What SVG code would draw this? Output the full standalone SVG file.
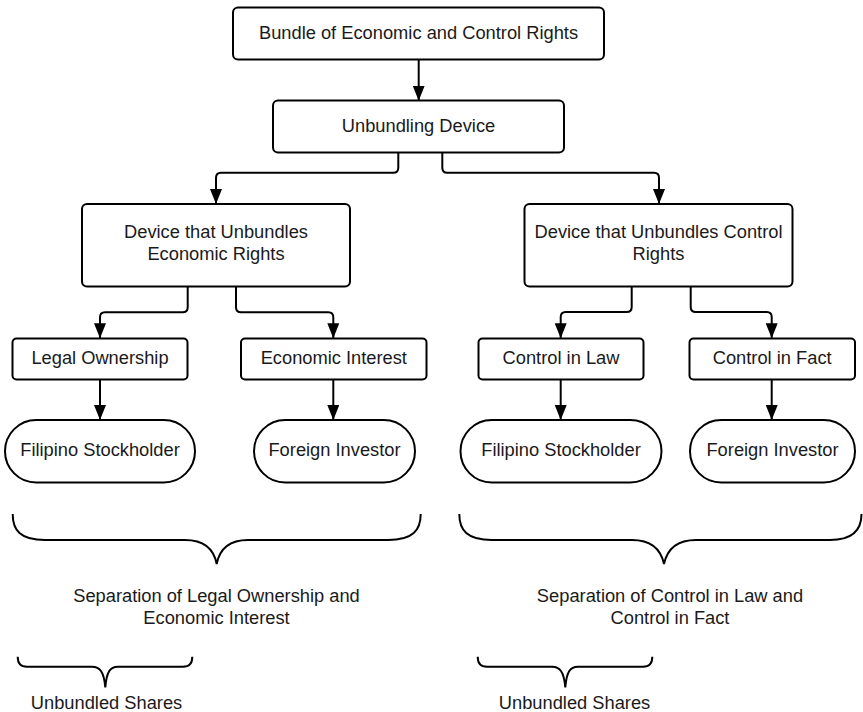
<svg xmlns="http://www.w3.org/2000/svg" width="863" height="712" viewBox="0 0 863 712">
<defs>
<style>
.box{fill:#fff;stroke:#000;stroke-width:2}
.t{font-family:"Liberation Sans",Arial,sans-serif;font-size:18.3px;fill:#1a1a1a;text-anchor:middle}
.c{fill:none;stroke:#000;stroke-width:2}
.br{fill:none;stroke:#000;stroke-width:2}
</style>
<marker id="ah" viewBox="0 0 15 12" refX="15" refY="6" markerWidth="15" markerHeight="12" markerUnits="userSpaceOnUse" orient="auto">
<path d="M0,0 L15,6 L0,12 z" fill="#000"/>
</marker>
</defs>
<rect width="863" height="712" fill="#fff"/>
<g id="connectors">
<path class="c" marker-end="url(#ah)" d="M418.7,59.3 V100.7"/>
<path class="c" marker-end="url(#ah)" d="M398.3,152.3 V167.7 Q398.3,172.7 393.3,172.7 H221 Q216,172.7 216,177.7 V204"/>
<path class="c" marker-end="url(#ah)" d="M442.3,152.3 V167.7 Q442.3,172.7 447.3,172.7 H654 Q659,172.7 659,177.7 V204"/>
<path class="c" marker-end="url(#ah)" d="M187.7,286.7 V307.3 Q187.7,312.3 182.7,312.3 H105 Q100,312.3 100,317.3 V338.3"/>
<path class="c" marker-end="url(#ah)" d="M236,286.7 V307.3 Q236,312.3 241,312.3 H328.3 Q333.3,312.3 333.3,317.3 V338.3"/>
<path class="c" marker-end="url(#ah)" d="M631.7,286.3 V307 Q631.7,312 626.7,312 H565.7 Q560.7,312 560.7,317 V338.3"/>
<path class="c" marker-end="url(#ah)" d="M690.7,286.3 V307 Q690.7,312 695.7,312 H766.7 Q771.7,312 771.7,317 V338.3"/>
<path class="c" marker-end="url(#ah)" d="M100,379.3 V420"/>
<path class="c" marker-end="url(#ah)" d="M333.3,379.3 V420"/>
<path class="c" marker-end="url(#ah)" d="M560.7,379.3 V420"/>
<path class="c" marker-end="url(#ah)" d="M771.7,379.3 V420"/>
</g>
<g id="n-bundle">
<rect class="box" x="233" y="7.5" width="371" height="52" rx="5"/>
<text class="t" x="418.5" y="39">Bundle of Economic and Control Rights</text>
</g>
<g id="n-device">
<rect class="box" x="273" y="100.5" width="291" height="52" rx="5"/>
<text class="t" x="418.5" y="132">Unbundling Device</text>
</g>
<g id="n-econ-device">
<rect class="box" x="82" y="204" width="268" height="82.5" rx="5"/>
<text class="t" x="216" y="237.5">Device that Unbundles</text>
<text class="t" x="216" y="259.5">Economic Rights</text>
</g>
<g id="n-control-device">
<rect class="box" x="524.5" y="204" width="268" height="82.5" rx="5"/>
<text class="t" x="658.5" y="237.5">Device that Unbundles Control</text>
<text class="t" x="658.5" y="259.5">Rights</text>
</g>
<g id="n-legal">
<rect class="box" x="12.5" y="338.5" width="175" height="41" rx="4"/>
<text class="t" x="100" y="364">Legal Ownership</text>
</g>
<g id="n-econ-int">
<rect class="box" x="241" y="338.5" width="185.5" height="41" rx="4"/>
<text class="t" x="333.8" y="364">Economic Interest</text>
</g>
<g id="n-law">
<rect class="box" x="478.5" y="338.5" width="165" height="41" rx="4"/>
<text class="t" x="561" y="363.5">Control in Law</text>
</g>
<g id="n-fact">
<rect class="box" x="689.5" y="338.5" width="165.5" height="41" rx="4"/>
<text class="t" x="772.2" y="363.5">Control in Fact</text>
</g>
<g id="n-fil1">
<rect class="box" x="5" y="420" width="190" height="62.5" rx="31.25"/>
<text class="t" x="100" y="456">Filipino Stockholder</text>
</g>
<g id="n-for1">
<rect class="box" x="254" y="420" width="161" height="62.5" rx="31.25"/>
<text class="t" x="334.5" y="456">Foreign Investor</text>
</g>
<g id="n-fil2">
<rect class="box" x="460.5" y="420" width="201" height="62.5" rx="31.25"/>
<text class="t" x="561" y="456">Filipino Stockholder</text>
</g>
<g id="n-for2">
<rect class="box" x="690" y="420" width="165" height="62.5" rx="31.25"/>
<text class="t" x="772.5" y="456">Foreign Investor</text>
</g>
<g id="braces">
<path class="br" d="M12.7,514 C12.7,530 20,540 45,540 H185 C205,540 214,550 216.7,564 C219.4,550 228,540 248,540 H388 C413,540 420.7,530 420.7,514"/>
<path class="br" d="M17.7,656.7 C17.7,663 20,666.7 27,666.7 H92 C100,666.7 104,672 105.3,687.3 C106.6,672 110,666.7 118,666.7 H183 C190,666.7 192.3,663 192.3,656.7"/>
<path class="br" d="M459.3,514 C459.3,530 467,540 492,540 H632 C652,540 661,550 664,564 C667,550 676,540 696,540 H830 C853,540 861.5,530 861.5,514"/>
<path class="br" d="M477.7,656.7 C477.7,663 480,666.7 487,666.7 H552 C560,666.7 564,672 565.3,687.3 C566.6,672 570,666.7 578,666.7 H643 C650,666.7 652.3,663 652.3,656.7"/>
</g>
<g id="labels">
<text class="t" x="216.5" y="602">Separation of Legal Ownership and</text>
<text class="t" x="216.5" y="623.5">Economic Interest</text>
<text class="t" x="670" y="602">Separation of Control in Law and</text>
<text class="t" x="670" y="623.5">Control in Fact</text>
<text class="t" x="106.5" y="708.5">Unbundled Shares</text>
<text class="t" x="574.5" y="708.5">Unbundled Shares</text>
</g>
</svg>
